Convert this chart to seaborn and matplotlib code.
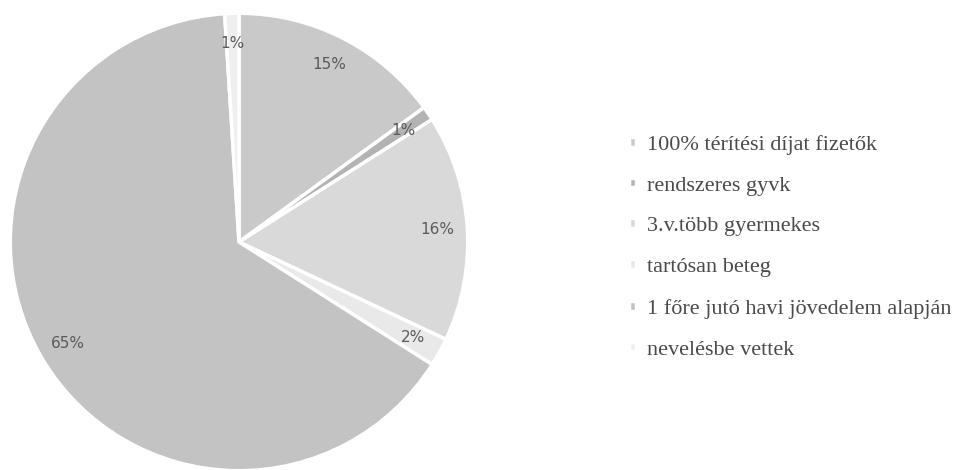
import seaborn as sns
import matplotlib.pyplot as plt

categories = ["100% térítési díjat fizetők", "rendszeres gyvk", "3.v.több gyermekes",
              "tartósan beteg", "1 főre jutó havi jövedelem alapján", "nevelésbe vettek"]
shares = [15, 1, 16, 2, 65, 1]
slice_colors = ["#c9c9c9", "#b3b3b3", "#d9d9d9", "#e9e9e9", "#c3c3c3", "#efefef"]

sns.set_theme(style="white")
plt.rcParams["font.family"] = ["DejaVu Sans"]

fig = plt.figure(figsize=(9.61, 4.70), dpi=100)
ax = fig.add_axes([8 / 961, -3 / 470, 462 / 961, 462 / 470])

wedges, texts, autotexts = ax.pie(
    shares, colors=sns.color_palette(slice_colors), startangle=90, counterclock=False,
    autopct="%1.0f%%", pctdistance=0.87,
    wedgeprops=dict(edgecolor="white", linewidth=2.5),
    textprops=dict(color="#5a5a5a", fontsize=11),
)
ax.set_xlim(-1.01, 1.01)
ax.set_ylim(-1.01, 1.01)
ax.set_aspect("equal")

leg = fig.legend(wedges, categories, loc="upper left", bbox_to_anchor=(620 / 961, 1 - 126 / 470),
                 frameon=False, handlelength=0.3, handleheight=0.3, handletextpad=0.5,
                 labelspacing=0.98, borderaxespad=0, prop={"family": "Liberation Serif", "size": 16})
for t in leg.get_texts():
    t.set_color("#4a4a4a")

fig.savefig("out.png", dpi=100)
